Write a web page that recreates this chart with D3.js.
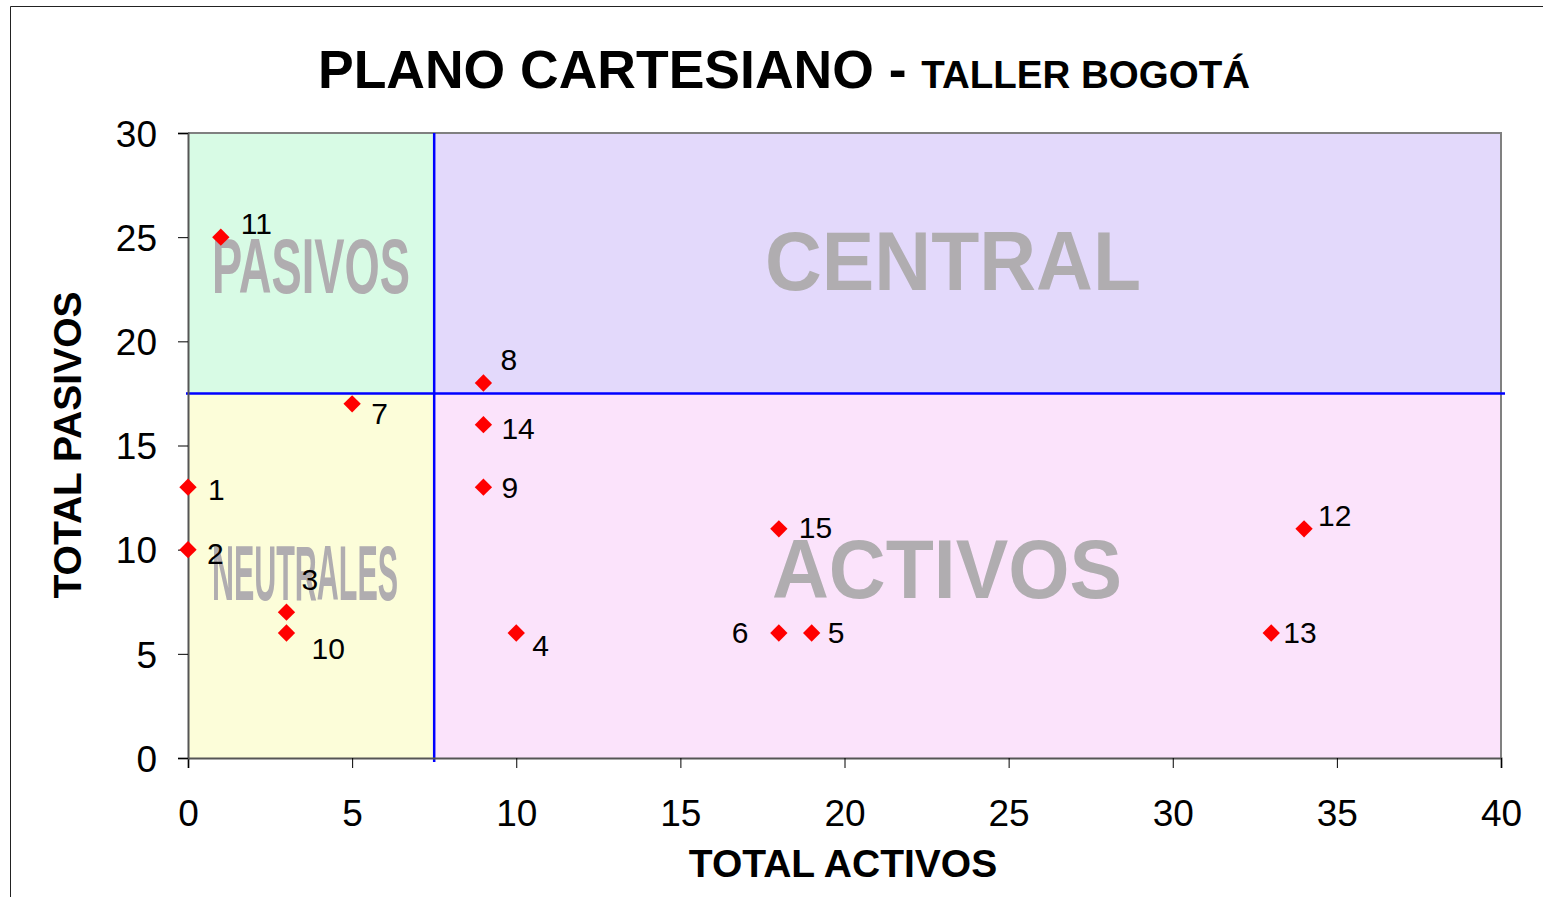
<!DOCTYPE html>
<html>
<head>
<meta charset="utf-8">
<script src="https://cdn.jsdelivr.net/npm/d3@7"></script>
<style>
  body { margin: 0; background: #fff; }
  svg { display: block; font-family: Arial, "Liberation Sans", sans-serif; }
</style>
</head>
<body>
<div id="chart"></div>
<script>
// data
var ids      = [1, 2, 3, 4, 5, 6, 7, 8, 9, 10, 11, 12, 13, 14, 15];
var activos  = [0, 0, 3, 10, 19, 18, 5, 9, 9, 3, 1, 34, 33, 9, 18];
var pasivos  = [13, 10, 7, 6, 6, 6, 17, 18, 13, 6, 25, 11, 6, 16, 11];
var xTicks   = [0, 5, 10, 15, 20, 25, 30, 35, 40];
var yTicks   = [0, 5, 10, 15, 20, 25, 30];
var cutX = 7.5, cutY = 17.5;

// where each label sits relative to its marker (px)
var labelOff = {
  1: [20, 13], 2: [19, 14], 3: [15, -22], 4: [16, 23], 5: [16, 10],
  6: [-47, 10], 7: [19, 20], 8: [17, -13], 9: [18, 11], 10: [25, 26],
  11: [20, -3], 12: [14, -3], 13: [12, 10], 14: [18, 14], 15: [20, 9]
};

var W = 1543, H = 897;
var margin = {top: 133, right: 42, bottom: 139, left: 188},
    width = W - margin.left - margin.right,
    height = H - margin.top - margin.bottom;

var svg = d3.select("#chart").append("svg")
    .attr("width", W)
    .attr("height", H);

// outer chart frame (cut off on right/bottom)
svg.append("path")
  .attr("d", "M10.5," + H + "V6.5H" + W)
  .attr("fill", "none")
  .attr("stroke", "#222")
  .attr("stroke-width", 1);

// title
var title = svg.append("text")
  .attr("x", 784).attr("y", 88)
  .attr("text-anchor", "middle")
  .attr("font-weight", "bold")
  .attr("fill", "#000");
title.append("tspan").attr("font-size", 53.5).text("PLANO CARTESIANO - ");
title.append("tspan").attr("font-size", 38.5).text("TALLER BOGOTÁ");

var g = svg.append("g")
  .attr("transform", "translate(" + margin.left + "," + margin.top + ")");
var bgLayer = g.append("g");
var wmLayer = g.append("g");
var lineLayer = g.append("g");
var ptLayer = g.append("g");

var x = d3.scaleLinear().domain([0, 40]).range([0, width]);
var y = d3.scaleLinear().domain([0, 30]).range([height, 0]);

// quadrants
var quads = [
  {x0: 0, x1: cutX, y0: cutY, y1: 30, fill: "#d8fbe5"},
  {x0: cutX, x1: 40, y0: cutY, y1: 30, fill: "#e3d9fb"},
  {x0: 0, x1: cutX, y0: 0, y1: cutY, fill: "#fcfdd9"},
  {x0: cutX, x1: 40, y0: 0, y1: cutY, fill: "#fbe3fb"}
];
bgLayer.selectAll(".quad").data(quads).enter().append("rect")
  .attr("x", function(d) { return x(d.x0); })
  .attr("y", function(d) { return y(d.y1); })
  .attr("width", function(d) { return x(d.x1) - x(d.x0); })
  .attr("height", function(d) { return y(d.y0) - y(d.y1); })
  .attr("fill", function(d) { return d.fill; });

// watermark words (page coords, shifted into plot group)
var marks = [
  {t: "PASIVOS", x: 212, y: 293, len: 198, size: 78},
  {t: "CENTRAL", x: 765, y: 290, len: 376, size: 84},
  {t: "NEUTRALES", x: 212, y: 600, len: 186, size: 78},
  {t: "ACTIVOS", x: 772, y: 598, len: 350, size: 84}
];
wmLayer.selectAll(".wm").data(marks).enter().append("text")
  .attr("x", function(d) { return d.x - margin.left; })
  .attr("y", function(d) { return d.y - margin.top; })
  .attr("font-size", function(d) { return d.size; })
  .attr("font-weight", "bold")
  .attr("fill", "#b0adb0")
  .attr("textLength", function(d) { return d.len; })
  .attr("lengthAdjust", "spacingAndGlyphs")
  .text(function(d) { return d.t; });

// frame top/right
lineLayer.append("path")
  .attr("d", "M0,0H" + width + "V" + height)
  .attr("fill", "none")
  .attr("stroke", "#808080")
  .attr("stroke-width", 2);

// divider lines
lineLayer.append("line")
  .attr("x1", x(cutX)).attr("x2", x(cutX))
  .attr("y1", 0).attr("y2", height + 4)
  .attr("stroke", "#0000ff").attr("stroke-width", 2.5);
lineLayer.append("line")
  .attr("x1", -2).attr("x2", width + 4)
  .attr("y1", y(cutY)).attr("y2", y(cutY))
  .attr("stroke", "#0000ff").attr("stroke-width", 2.5);

// axes
var xAxis = lineLayer.append("g")
  .attr("transform", "translate(0," + height + ")")
  .call(d3.axisBottom(x).tickValues(xTicks).tickSize(10).tickPadding(43));
var yAxis = lineLayer.append("g")
  .call(d3.axisLeft(y).tickValues(yTicks).tickSize(10).tickPadding(21));
[xAxis, yAxis].forEach(function(a) {
  a.select(".domain").attr("stroke", "#555").attr("stroke-width", 2);
  a.selectAll(".tick line").attr("stroke", "#000");
  a.selectAll("text")
    .attr("font-size", 37)
    .attr("font-family", "Arial, 'Liberation Sans', sans-serif")
    .attr("fill", "#000");
});
xAxis.selectAll("text").attr("dy", "0.4em");
yAxis.selectAll("text").attr("dy", "0.36em");

// axis titles
svg.append("text")
  .attr("x", 843).attr("y", 877)
  .attr("text-anchor", "middle")
  .attr("font-size", 39).attr("font-weight", "bold")
  .text("TOTAL ACTIVOS");
svg.append("text")
  .attr("transform", "translate(81,445)rotate(-90)")
  .attr("text-anchor", "middle")
  .attr("font-size", 39).attr("font-weight", "bold")
  .text("TOTAL PASIVOS");

// points
var pts = ids.map(function(id, i) { return {id: id, a: activos[i], p: pasivos[i]}; });
var diamond = d3.symbol().type(d3.symbolSquare).size(150);
ptLayer.selectAll(".pt").data(pts).enter().append("path")
  .attr("d", diamond)
  .attr("transform", function(d) { return "translate(" + x(d.a) + "," + y(d.p) + ")rotate(45)"; })
  .attr("fill", "#ff0000");

ptLayer.selectAll(".lbl").data(pts).enter().append("text")
  .attr("x", function(d) { return x(d.a) + labelOff[d.id][0]; })
  .attr("y", function(d) { return y(d.p) + labelOff[d.id][1]; })
  .attr("font-size", 30)
  .attr("fill", "#000")
  .text(function(d) { return d.id; });
</script>
</body>
</html>
